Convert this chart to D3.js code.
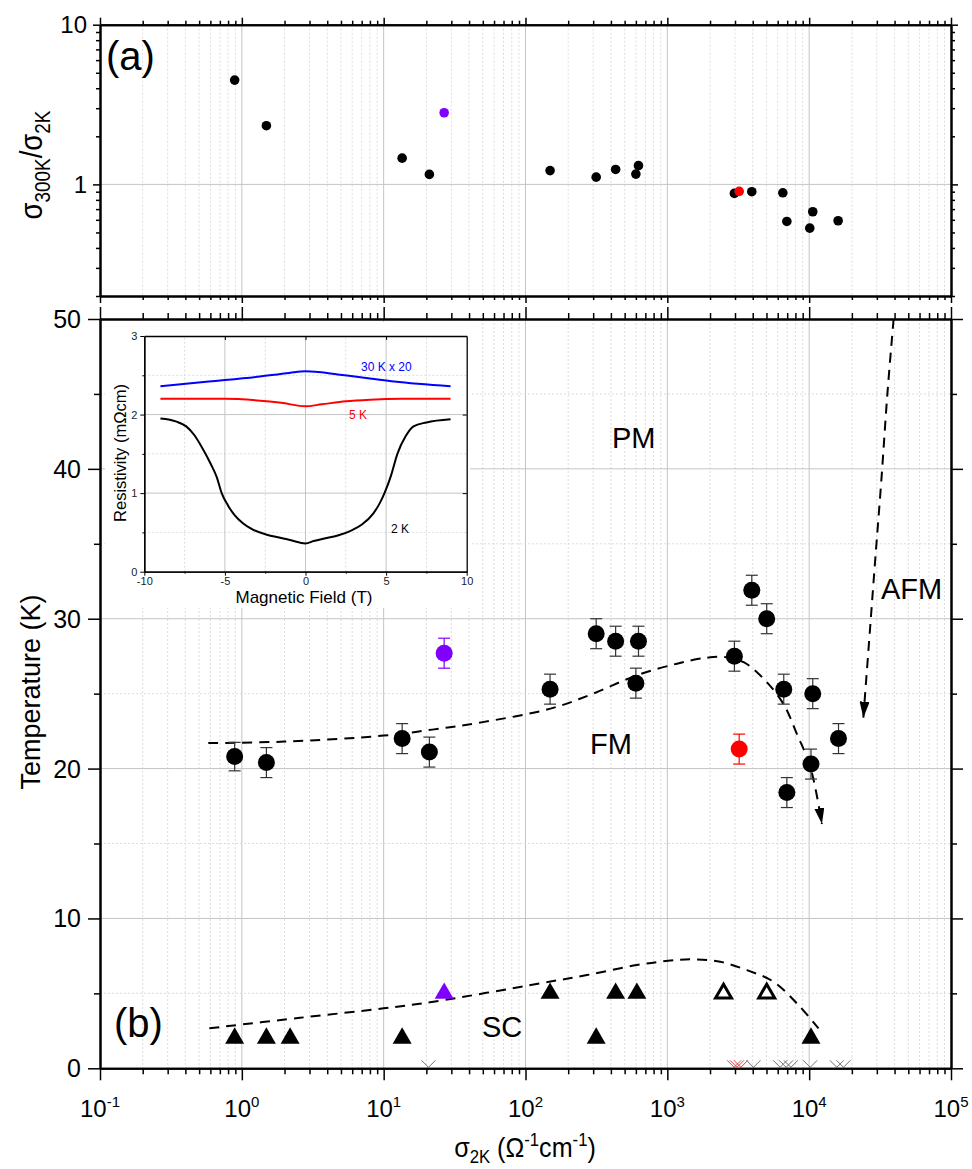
<!DOCTYPE html>
<html>
<head>
  <meta charset="UTF-8">
  <title>Phase diagram</title>
  <script src="https://cdn.jsdelivr.net/npm/d3@7"></script>
  <style>
    body { margin: 0; background: #fff; }
    svg { display: block; font-family: "Liberation Sans", Arial, sans-serif; }
    .grid-major { stroke: #c4c4c4; stroke-width: 1; }
    .grid-minor { stroke: #dcdcdc; stroke-width: 1; stroke-dasharray: 2,2; }
    .frame path.domain { stroke: #000; stroke-width: 2; }
    .frame line { stroke: #000; stroke-width: 1.5; }
  </style>
</head>
<body>

<div id="chart"></div>

<script>
  // ---- panel (a): sigma300K / sigma2K ----
  var topX = [0.89, 1.49, 13.5, 21, 26.7, 149, 315, 432, 600, 626, 2970, 3210, 3940, 6520, 6960, 10100, 10600, 16000];
  var topY = [4.5, 2.33, 1.46, 1.155, 2.81, 1.22, 1.11, 1.24, 1.16, 1.31, 0.878, 0.904, 0.90, 0.886, 0.586, 0.532, 0.674, 0.592];
  var topGroup = ['k', 'k', 'k', 'k', 'p', 'k', 'k', 'k', 'k', 'k', 'k', 'r', 'k', 'k', 'k', 'k', 'k', 'k'];

  // ---- panel (b): Curie temperature (circles) ----
  var fmX = [0.89, 1.49, 13.5, 21, 26.7, 149, 315, 432, 626, 600, 2970, 3210, 3940, 5020, 6620, 6960, 10600, 10300, 16100];
  var fmT = [20.8, 20.4, 22.0, 21.1, 27.7, 25.3, 29.0, 28.5, 28.5, 25.7, 27.5, 21.3, 31.9, 30.0, 25.3, 18.4, 25.0, 20.3, 22.0];
  var fmErr = [0.95, 1, 1, 1, 1, 1, 1, 1, 1, 1, 1, 1, 1, 1, 1, 1, 1, 1, 1];
  var fmGroup = ['k', 'k', 'k', 'k', 'p', 'k', 'k', 'k', 'k', 'k', 'k', 'r', 'k', 'k', 'k', 'k', 'k', 'k', 'k'];

  // superconducting Tc (triangles)
  var scX = [0.89, 1.49, 2.19, 13.5, 26.7, 149, 315, 432, 610, 2490, 5020, 10300];
  var scT = [2, 2, 2, 2, 5, 5, 2, 5, 5, 5, 5, 2];
  var scGroup = ['k', 'k', 'k', 'k', 'p', 'k', 'k', 'k', 'k', 'o', 'o', 'k'];

  // little carets on the x axis
  var caretX = [20.7, 2960, 3100, 3300, 4050, 6240, 6880, 7430, 10170, 15670, 17450];
  var caretGroup = ['k', 'k', 'r', 'r', 'k', 'k', 'k', 'k', 'k', 'k', 'k'];

  // dashed guide lines [sigma, T]
  var fmCurve = [[0.58, 21.7], [2, 21.8], [10, 22.2], [22, 22.6], [50, 23.1], [150, 24.0], [300, 25.0],
                 [600, 26.2], [1170, 27.0], [1900, 27.4], [2500, 27.45], [3450, 27.1], [4770, 26.0],
                 [6600, 24.3], [8200, 22.3], [10200, 20.1], [12300, 16.3]];
  var afmCurve = [[39400, 50], [35600, 45], [32200, 39.1], [29200, 33.9], [26900, 29.4], [24100, 23.4]];
  var scCurve = [[0.59, 2.67], [2.57, 3.37], [10, 4.0], [22.4, 4.44], [127, 5.67], [271, 6.22], [609, 6.89],
                 [1010, 7.17], [1530, 7.27], [2360, 7.11], [3640, 6.55], [5600, 5.78], [8190, 4.33], [11640, 2.67]];

  var regionLabels = ['PM', 'FM', 'AFM', 'SC'];

  // ---- inset: resistivity vs field ----
  var field2K = [-9, -8, -7.4, -6.9, -6.5, -5.9, -5.5, -5.2, -4.8, -4.4, -3.9, -3.4, -2.4, -1.5, -0.9, 0,
                 0.5, 1.1, 2, 2.8, 3.5, 4.2, 4.6, 4.9, 5.3, 5.7, 6.2, 6.7, 7.5, 9];
  var rho2K = [1.95, 1.91, 1.85, 1.74, 1.61, 1.38, 1.2, 1.0, 0.84, 0.72, 0.62, 0.55, 0.47, 0.43, 0.40, 0.36,
               0.39, 0.42, 0.46, 0.52, 0.60, 0.74, 0.87, 1.0, 1.22, 1.5, 1.72, 1.85, 1.9, 1.94];
  var field5K = [-9, -5, -3, -1.5, 0, 1, 2.5, 4, 6, 9];
  var rho5K = [2.2, 2.2, 2.18, 2.15, 2.105, 2.13, 2.17, 2.19, 2.2, 2.2];
  var field30K = [-9, -6, -3, -1, 0, 0.6, 2, 4, 5.5, 9];
  var rho30K = [2.36, 2.42, 2.48, 2.53, 2.55, 2.545, 2.51, 2.46, 2.42, 2.36];

  var colors = { k: '#000', p: '#8000ff', r: '#ff0000', o: '#000' };

  var svg = d3.select('#chart')
    .append('svg')
      .attr('width', 972)
      .attr('height', 1169);

  var x = d3.scaleLog().domain([0.1, 1e5]).range([100, 951]);
  var yTop = d3.scaleLog().domain([0.2, 10]).range([296, 24.7]);
  var yBot = d3.scaleLinear().domain([0, 50]).range([1068.3, 319]);

  var xMajor = d3.range(-1, 6).map(e => Math.pow(10, e));
  var xMinor = [];
  d3.range(-1, 5).forEach(e => { for (var k = 2; k <= 9; k++) xMinor.push(k * Math.pow(10, e)); });
  var yTopMinor = [0.2, 0.3, 0.4, 0.5, 0.6, 0.7, 0.8, 0.9, 2, 3, 4, 5, 6, 7, 8, 9];

  // ---- grid lines ----
  var grid = svg.append('g');
  function vgrid(vals, cls, y0, y1) {
    grid.selectAll(null).data(vals).enter().append('line')
      .attr('class', cls)
      .attr('x1', d => x(d)).attr('x2', d => x(d))
      .attr('y1', y0).attr('y2', y1);
  }
  vgrid(xMinor, 'grid-minor', yTop.range()[1], yTop.range()[0]);
  vgrid(xMajor.slice(1, -1), 'grid-major', yTop.range()[1], yTop.range()[0]);
  vgrid(xMinor, 'grid-minor', yBot.range()[1], yBot.range()[0]);
  vgrid(xMajor.slice(1, -1), 'grid-major', yBot.range()[1], yBot.range()[0]);

  grid.append('line').attr('class', 'grid-major')
    .attr('x1', 100).attr('x2', 951).attr('y1', yTop(1)).attr('y2', yTop(1));
  grid.selectAll(null).data([5, 15, 25, 35, 45]).enter().append('line')
    .attr('class', 'grid-minor')
    .attr('x1', 100).attr('x2', 951).attr('y1', d => yBot(d)).attr('y2', d => yBot(d));
  grid.selectAll(null).data([10, 20, 30, 40]).enter().append('line')
    .attr('class', 'grid-major')
    .attr('x1', 100).attr('x2', 951).attr('y1', d => yBot(d)).attr('y2', d => yBot(d));

  // ---- inset ----
  svg.append('rect')
    .attr('x', 105).attr('y', 322).attr('width', 365).attr('height', 286)
    .attr('fill', '#fff');

  var ix = d3.scaleLinear().domain([-10, 10]).range([144.3, 466.7]);
  var iy = d3.scaleLinear().domain([0, 3]).range([571.7, 336]);
  var inset = svg.append('g');

  inset.selectAll(null).data([-7.5, -2.5, 2.5, 7.5]).enter().append('line')
    .attr('class', 'grid-minor')
    .attr('x1', d => ix(d)).attr('x2', d => ix(d)).attr('y1', iy(0)).attr('y2', iy(3));
  inset.selectAll(null).data([0.5, 1.5, 2.5]).enter().append('line')
    .attr('class', 'grid-minor')
    .attr('x1', ix(-10)).attr('x2', ix(10)).attr('y1', d => iy(d)).attr('y2', d => iy(d));
  inset.selectAll(null).data([-5, 0, 5]).enter().append('line')
    .attr('class', 'grid-major')
    .attr('x1', d => ix(d)).attr('x2', d => ix(d)).attr('y1', iy(0)).attr('y2', iy(3));
  inset.selectAll(null).data([1, 2]).enter().append('line')
    .attr('class', 'grid-major')
    .attr('x1', ix(-10)).attr('x2', ix(10)).attr('y1', d => iy(d)).attr('y2', d => iy(d));

  var iline = d3.line().x(d => ix(d[0])).y(d => iy(d[1])).curve(d3.curveMonotoneX);
  [[field30K, rho30K, '#0000ff'], [field5K, rho5K, '#ff0000'], [field2K, rho2K, '#000']].forEach(function (c) {
    inset.append('path')
      .datum(c[0].map((f, i) => [f, c[1][i]]))
      .attr('d', iline)
      .attr('fill', 'none')
      .attr('stroke', c[2])
      .attr('stroke-width', 2);
  });

  function insetAxis(axis, tr) {
    var a = inset.append('g').attr('transform', tr).call(axis);
    a.select('.domain').attr('stroke', '#000').attr('stroke-width', 1.3);
    a.selectAll('line').attr('stroke', '#000');
    a.selectAll('text').attr('fill', '#222').style('font-size', '11px')
      .style('font-family', '"Liberation Sans", Arial, sans-serif');
    return a;
  }
  insetAxis(d3.axisBottom(ix).tickValues([-10, -5, 0, 5, 10]).tickSize(4).tickSizeOuter(0).tickPadding(2)
    .tickFormat(d => d), 'translate(0,' + iy(0) + ')');
  insetAxis(d3.axisBottom(ix).tickValues([-7.5, -2.5, 2.5, 7.5]).tickSize(2).tickSizeOuter(0).tickFormat(''),
    'translate(0,' + iy(0) + ')');
  insetAxis(d3.axisLeft(iy).tickValues([0, 1, 2, 3]).tickSize(4).tickSizeOuter(0).tickPadding(3)
    .tickFormat(d => d), 'translate(' + ix(-10) + ',0)');
  insetAxis(d3.axisLeft(iy).tickValues([0.5, 1.5, 2.5]).tickSize(2).tickSizeOuter(0).tickFormat(''),
    'translate(' + ix(-10) + ',0)');
  insetAxis(d3.axisTop(ix).tickValues([-5, 0, 5]).tickSize(-4).tickSizeOuter(0).tickFormat(''),
    'translate(0,' + iy(3) + ')');
  insetAxis(d3.axisRight(iy).tickValues([1, 2]).tickSize(-4).tickSizeOuter(0).tickFormat(''),
    'translate(' + ix(10) + ',0)');

  inset.append('text').attr('x', 304).attr('y', 603).attr('text-anchor', 'middle')
    .style('font-size', '17px').text('Magnetic Field (T)');
  inset.append('text').attr('transform', 'translate(126,453) rotate(-90)').attr('text-anchor', 'middle')
    .style('font-size', '16.5px').text('Resistivity (m\u03A9cm)');
  inset.append('text').attr('x', 361).attr('y', 371).attr('fill', '#0000ff')
    .style('font-size', '12px').text('30 K x 20');
  inset.append('text').attr('x', 349).attr('y', 419).attr('fill', '#ff0000')
    .style('font-size', '12px').text('5 K');
  inset.append('text').attr('x', 391).attr('y', 533).attr('fill', '#000')
    .style('font-size', '12px').text('2 K');

  // ---- dashed guides ----
  var defs = svg.append('defs');
  defs.append('marker')
    .attr('id', 'head')
    .attr('viewBox', '0 0 16 10')
    .attr('refX', 16).attr('refY', 5)
    .attr('markerWidth', 16).attr('markerHeight', 10)
    .attr('markerUnits', 'userSpaceOnUse')
    .attr('orient', 'auto')
    .append('path').attr('d', 'M0,0 L16,5 L0,10 Z').attr('fill', '#000');

  var guide = d3.line().x(d => x(d[0])).y(d => yBot(d[1])).curve(d3.curveCatmullRom);
  [[fmCurve, true], [afmCurve, true], [scCurve, false]].forEach(function (c) {
    svg.append('path')
      .datum(c[0])
      .attr('d', guide)
      .attr('fill', 'none')
      .attr('stroke', '#000')
      .attr('stroke-width', 2)
      .attr('stroke-dasharray', '10,7')
      .attr('marker-end', c[1] ? 'url(#head)' : null);
  });

  // ---- panel (a) points ----
  svg.append('g').selectAll('circle')
    .data(topX.map((v, i) => ({ x: v, y: topY[i], g: topGroup[i] })))
    .enter().append('circle')
      .attr('cx', d => x(d.x))
      .attr('cy', d => yTop(d.y))
      .attr('r', 4.8)
      .attr('fill', d => colors[d.g]);

  // ---- panel (b) points with error bars ----
  var fm = fmX.map((v, i) => ({ x: v, t: fmT[i], e: fmErr[i], g: fmGroup[i] }));
  var eb = svg.append('g').selectAll('g').data(fm).enter().append('g')
    .attr('stroke', d => d.g === 'k' ? '#333' : colors[d.g])
    .attr('stroke-width', 1.2);
  eb.append('line')
    .attr('x1', d => x(d.x)).attr('x2', d => x(d.x))
    .attr('y1', d => yBot(d.t - d.e)).attr('y2', d => yBot(d.t + d.e));
  [-1, 1].forEach(function (s) {
    eb.append('line')
      .attr('x1', d => x(d.x) - 6).attr('x2', d => x(d.x) + 6)
      .attr('y1', d => yBot(d.t + s * d.e)).attr('y2', d => yBot(d.t + s * d.e));
  });
  svg.append('g').selectAll('circle').data(fm).enter().append('circle')
    .attr('cx', d => x(d.x))
    .attr('cy', d => yBot(d.t))
    .attr('r', 8.5)
    .attr('fill', d => colors[d.g]);

  // triangles
  var tri = d3.symbol().type(d3.symbolTriangle);
  svg.append('g').selectAll('path')
    .data(scX.map((v, i) => ({ x: v, t: scT[i], g: scGroup[i] })))
    .enter().append('path')
      .attr('transform', d => 'translate(' + x(d.x) + ',' + yBot(d.t) + ')')
      .attr('d', d => tri.size(d.g === 'o' ? 110 : 156)())
      .attr('fill', d => d.g === 'o' ? '#fff' : colors[d.g])
      .attr('stroke', d => d.g === 'o' ? '#000' : 'none')
      .attr('stroke-width', 3);

  // carets on the axis
  svg.append('g').selectAll('path')
    .data(caretX.map((v, i) => ({ x: v, g: caretGroup[i] })))
    .enter().append('path')
      .attr('d', d => 'M' + (x(d.x) - 7) + ',' + (yBot(0) - 8) + 'L' + x(d.x) + ',' + (yBot(0) - 1) +
                      'L' + (x(d.x) + 7) + ',' + (yBot(0) - 8))
      .attr('fill', 'none')
      .attr('stroke', d => d.g === 'r' ? '#ff3030' : '#707070')
      .attr('stroke-width', 1);

  // ---- frames and ticks ----
  function frameAxis(axis, tr) {
    var a = svg.append('g').attr('class', 'frame').attr('transform', tr).call(axis);
    a.selectAll('text').remove();
    return a;
  }
  // panel (a)
  frameAxis(d3.axisTop(x).tickValues(xMajor).tickSize(7).tickSizeOuter(0), 'translate(0,24.7)');
  frameAxis(d3.axisTop(x).tickValues(xMinor).tickSize(4).tickSizeOuter(0), 'translate(0,24.7)');
  frameAxis(d3.axisBottom(x).tickValues(xMajor).tickSize(7).tickSizeOuter(0), 'translate(0,296)');
  frameAxis(d3.axisBottom(x).tickValues(xMinor).tickSize(4).tickSizeOuter(0), 'translate(0,296)');
  frameAxis(d3.axisLeft(yTop).tickValues([1, 10]).tickSize(7).tickSizeOuter(0), 'translate(100,0)');
  frameAxis(d3.axisLeft(yTop).tickValues(yTopMinor).tickSize(4).tickSizeOuter(0), 'translate(100,0)');
  frameAxis(d3.axisRight(yTop).tickValues([1, 10]).tickSize(7).tickSizeOuter(0), 'translate(951,0)');
  frameAxis(d3.axisRight(yTop).tickValues(yTopMinor).tickSize(4).tickSizeOuter(0), 'translate(951,0)');
  // panel (b)
  frameAxis(d3.axisTop(x).tickValues(xMajor).tickSize(12).tickSizeOuter(0), 'translate(0,319)');
  frameAxis(d3.axisTop(x).tickValues(xMinor).tickSize(6).tickSizeOuter(0), 'translate(0,319)');
  frameAxis(d3.axisBottom(x).tickValues(xMajor).tickSize(12).tickSizeOuter(0), 'translate(0,1068.3)');
  frameAxis(d3.axisBottom(x).tickValues(xMinor).tickSize(6).tickSizeOuter(0), 'translate(0,1068.3)');
  frameAxis(d3.axisLeft(yBot).tickValues(d3.range(0, 51, 10)).tickSize(12).tickSizeOuter(0), 'translate(100,0)');
  frameAxis(d3.axisLeft(yBot).tickValues(d3.range(5, 50, 10)).tickSize(6).tickSizeOuter(0), 'translate(100,0)');
  frameAxis(d3.axisRight(yBot).tickValues(d3.range(0, 51, 10)).tickSize(12).tickSizeOuter(0), 'translate(951,0)');
  frameAxis(d3.axisRight(yBot).tickValues(d3.range(5, 50, 10)).tickSize(6).tickSizeOuter(0), 'translate(951,0)');

  // ---- tick labels ----
  var lab = svg.append('g').attr('fill', '#000');
  lab.selectAll(null).data([1, 10]).enter().append('text')
    .attr('x', 87).attr('y', d => yTop(d)).attr('dy', '0.36em')
    .attr('text-anchor', 'end').style('font-size', '24px').text(d => d);
  lab.selectAll(null).data(d3.range(0, 51, 10)).enter().append('text')
    .attr('x', 81).attr('y', d => yBot(d)).attr('dy', '0.36em')
    .attr('text-anchor', 'end').style('font-size', '25px').text(d => d);
  var xl = lab.selectAll(null).data(xMajor).enter().append('text')
    .attr('x', d => x(d)).attr('y', 1117)
    .attr('text-anchor', 'middle').style('font-size', '24px');
  xl.append('tspan').text('10');
  xl.append('tspan').attr('dy', -10).style('font-size', '15px').text(d => Math.round(Math.log10(d)));

  // ---- axis titles ----
  var xt = svg.append('text').attr('transform', 'translate(525,1157) scale(0.93,1)').attr('text-anchor', 'middle')
    .style('font-size', '27px');
  xt.append('tspan').text('\u03C3');
  xt.append('tspan').attr('dy', 6).style('font-size', '18px').text('2K');
  xt.append('tspan').attr('dy', -6).text(' (\u03A9');
  xt.append('tspan').attr('dy', -11).style('font-size', '18px').text('-1');
  xt.append('tspan').attr('dy', 11).text('cm');
  xt.append('tspan').attr('dy', -11).style('font-size', '18px').text('-1');
  xt.append('tspan').attr('dy', 11).text(')');

  svg.append('text').attr('transform', 'translate(40,692) rotate(-90)').attr('text-anchor', 'middle')
    .style('font-size', '27px').text('Temperature (K)');

  var yt = svg.append('text').attr('transform', 'translate(42,165) rotate(-90) scale(0.86,1)')
    .attr('text-anchor', 'middle')
    .style('font-size', '32px');
  yt.append('tspan').text('\u03C3');
  yt.append('tspan').attr('dy', 8).style('font-size', '22px').text('300K');
  yt.append('tspan').attr('dy', -8).text('/\u03C3');
  yt.append('tspan').attr('dy', 8).style('font-size', '22px').text('2K');

  // ---- panel tags and regions ----
  svg.append('text').attr('x', 106).attr('y', 70).style('font-size', '40px').text('(a)');
  svg.append('text').attr('x', 114).attr('y', 1037).style('font-size', '40px').text('(b)');
  var regionPos = [[612, 448], [590, 754], [881, 599], [482, 1037]];
  svg.selectAll(null).data(regionLabels).enter().append('text')
    .attr('x', (d, i) => regionPos[i][0]).attr('y', (d, i) => regionPos[i][1])
    .style('font-size', '29px').text(d => d);
</script>

</body>
</html>
